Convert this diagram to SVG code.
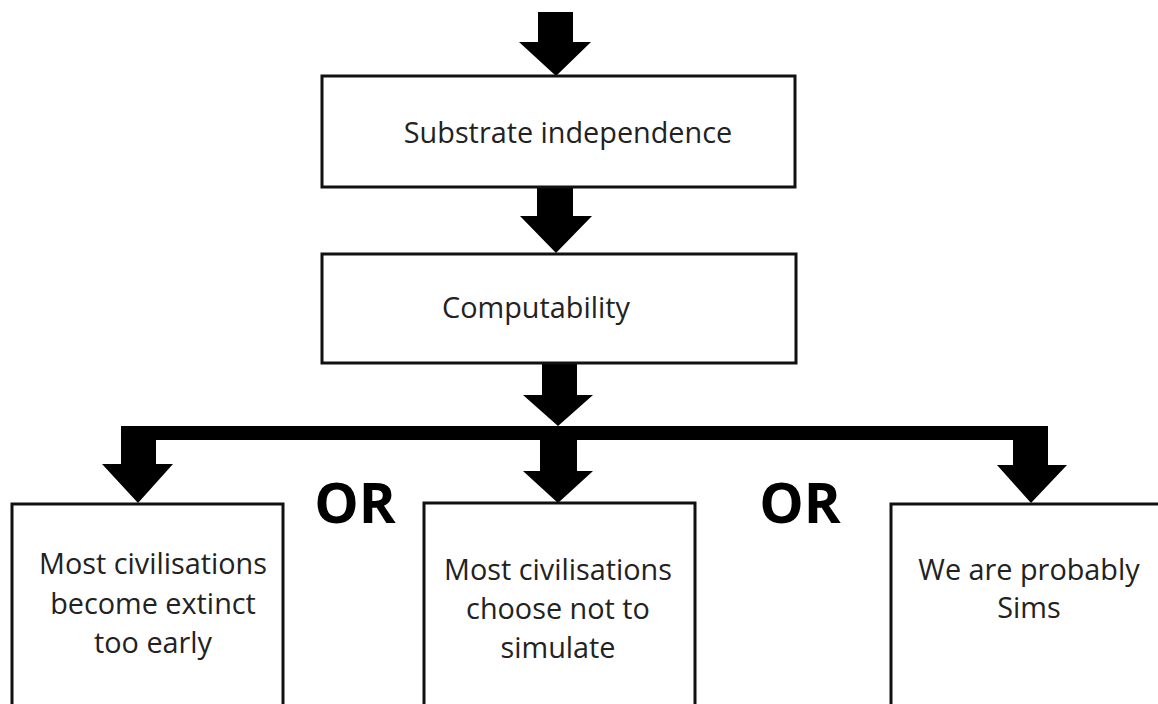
<svg xmlns="http://www.w3.org/2000/svg" width="1158" height="704" viewBox="0 0 1158 704">
<style>
.box{fill:#fff;stroke:#111;stroke-width:3}
.t{font-family:"Open Sans","Noto Sans",sans-serif;font-size:28.8px;fill:#222;text-anchor:middle}
.or{font-family:"Open Sans","Noto Sans",sans-serif;font-size:56px;font-weight:700;fill:#000;text-anchor:middle}
.arr{fill:#000}
</style>
<rect width="1158" height="704" fill="#fff"/>
<g id="connectors">
<polygon class="arr" points="538,12 573,12 573,42 591,42 556,76 519,42 538,42"/>
<polygon class="arr" points="537,187 573,187 573,216 592,216 556,253 520,216 537,216"/>
<polygon class="arr" points="542,364 577,364 577,395 593,395 558,426 523,395 542,395"/>
<rect class="arr" x="121" y="426" width="927" height="14"/>
<polygon class="arr" points="540,438 577,438 577,471 593,471 558,503 523,471 540,471"/>
<polygon class="arr" points="121,426 156,426 156,464 173,464 138,503 102,464 121,464"/>
<polygon class="arr" points="1013,426 1048,426 1048,465 1067,465 1031,503 997,465 1013,465"/>
</g>
<g id="n1">
<rect class="box" x="322" y="76" width="473" height="111"/>
<text class="t" x="568" y="143">Substrate independence</text>
</g>
<g id="n2">
<rect class="box" x="322" y="254" width="474" height="109"/>
<text class="t" x="536" y="318">Computability</text>
</g>
<g id="n3">
<rect class="box" x="12" y="504" width="271" height="215"/>
<text class="t" x="153" y="574">Most civilisations</text>
<text class="t" x="153" y="614">become extinct</text>
<text class="t" x="153" y="653">too early</text>
</g>
<g id="n4">
<rect class="box" x="424" y="503" width="271" height="215"/>
<text class="t" x="558" y="580">Most civilisations</text>
<text class="t" x="558" y="619">choose not to</text>
<text class="t" x="558" y="658">simulate</text>
</g>
<g id="n5">
<rect class="box" x="891" y="504" width="280" height="215"/>
<text class="t" x="1029" y="580">We are probably</text>
<text class="t" x="1029" y="618">Sims</text>
</g>
<g id="labels">
<text class="or" x="355" y="523">OR</text>
<text class="or" x="800" y="523">OR</text>
</g>
</svg>
